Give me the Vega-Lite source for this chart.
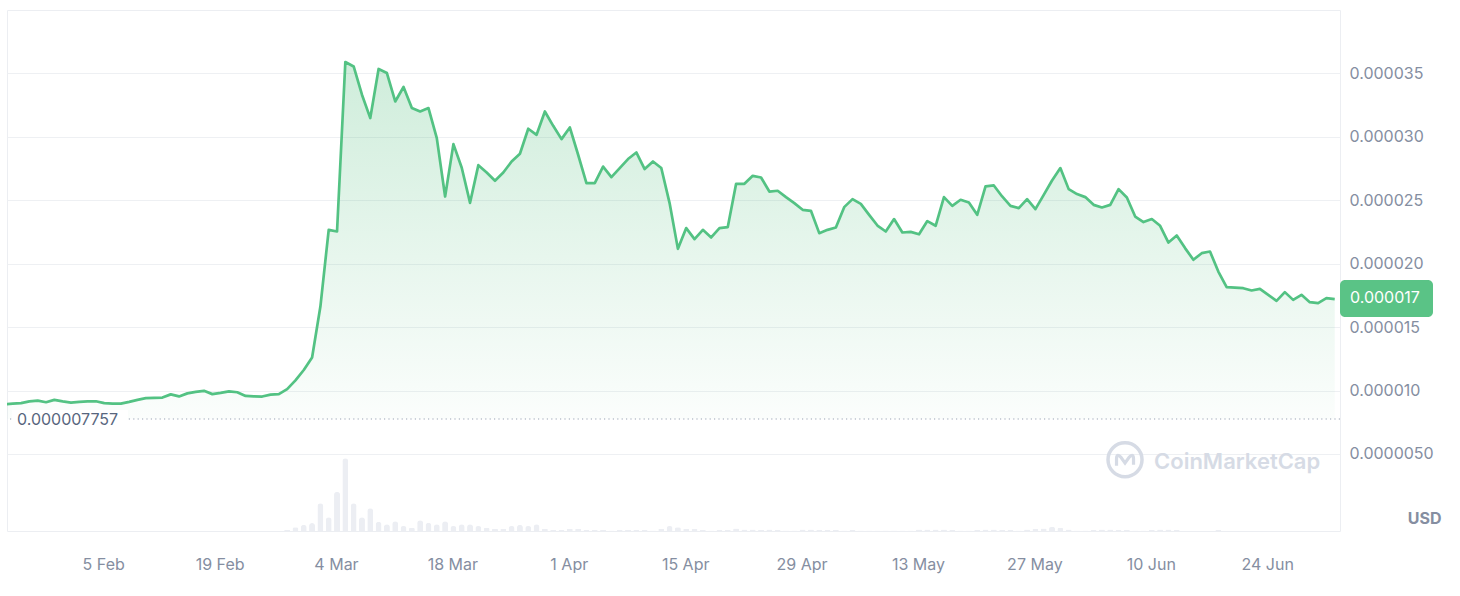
{
  "$schema": "https://vega.github.io/schema/vega-lite/v6.json",
  "width": 1333,
  "height": 521,
  "autosize": {"type": "none"},
  "padding": {"left": 7, "top": 10, "right": 120, "bottom": 65},
  "background": "#ffffff",
  "config": {"font": "Inter", "view": {"stroke": "#eceef2", "strokeWidth": 1}, "scale": {"continuousPadding": 0}},
  "datasets": {
    "price": [
      {"t":"2024-01-24T03:00:00Z","p":8.91e-6},{"t":"2024-01-25T03:00:00Z","p":8.97e-6},{"t":"2024-01-26T03:00:00Z","p":9.01e-6},{"t":"2024-01-27T03:00:00Z","p":9.15e-6},{"t":"2024-01-28T03:00:00Z","p":9.21e-6},{"t":"2024-01-29T03:00:00Z","p":9.08e-6},{"t":"2024-01-30T03:00:00Z","p":9.27e-6},{"t":"2024-01-31T03:00:00Z","p":9.15e-6},
      {"t":"2024-02-01T03:00:00Z","p":9.05e-6},{"t":"2024-02-02T03:00:00Z","p":9.11e-6},{"t":"2024-02-03T03:00:00Z","p":9.15e-6},{"t":"2024-02-04T03:00:00Z","p":9.16e-6},{"t":"2024-02-05T03:00:00Z","p":9.01e-6},{"t":"2024-02-06T03:00:00Z","p":8.97e-6},{"t":"2024-02-07T03:00:00Z","p":8.97e-6},{"t":"2024-02-08T03:00:00Z","p":9.11e-6},{"t":"2024-02-09T03:00:00Z","p":9.27e-6},{"t":"2024-02-10T03:00:00Z","p":9.40e-6},{"t":"2024-02-11T03:00:00Z","p":9.42e-6},{"t":"2024-02-12T03:00:00Z","p":9.45e-6},{"t":"2024-02-13T03:00:00Z","p":9.70e-6},{"t":"2024-02-14T03:00:00Z","p":9.54e-6},{"t":"2024-02-15T03:00:00Z","p":9.78e-6},{"t":"2024-02-16T03:00:00Z","p":9.90e-6},{"t":"2024-02-17T03:00:00Z","p":9.98e-6},{"t":"2024-02-18T03:00:00Z","p":9.72e-6},{"t":"2024-02-19T03:00:00Z","p":9.82e-6},{"t":"2024-02-20T03:00:00Z","p":9.94e-6},{"t":"2024-02-21T03:00:00Z","p":9.87e-6},{"t":"2024-02-22T03:00:00Z","p":9.58e-6},{"t":"2024-02-23T03:00:00Z","p":9.54e-6},{"t":"2024-02-24T03:00:00Z","p":9.53e-6},{"t":"2024-02-25T03:00:00Z","p":9.68e-6},{"t":"2024-02-26T03:00:00Z","p":9.72e-6},{"t":"2024-02-27T03:00:00Z","p":10.11e-6},{"t":"2024-02-28T03:00:00Z","p":10.80e-6},{"t":"2024-02-29T03:00:00Z","p":11.62e-6},
      {"t":"2024-03-01T03:00:00Z","p":12.60e-6},{"t":"2024-03-02T03:00:00Z","p":16.62e-6},{"t":"2024-03-03T03:00:00Z","p":22.67e-6},{"t":"2024-03-04T03:00:00Z","p":22.54e-6},{"t":"2024-03-05T03:00:00Z","p":35.90e-6},{"t":"2024-03-06T03:00:00Z","p":35.55e-6},{"t":"2024-03-07T03:00:00Z","p":33.32e-6},{"t":"2024-03-08T03:00:00Z","p":31.48e-6},{"t":"2024-03-09T03:00:00Z","p":35.35e-6},{"t":"2024-03-10T03:00:00Z","p":35.03e-6},{"t":"2024-03-11T03:00:00Z","p":32.79e-6},{"t":"2024-03-12T03:00:00Z","p":33.93e-6},{"t":"2024-03-13T03:00:00Z","p":32.27e-6},{"t":"2024-03-14T03:00:00Z","p":32.00e-6},{"t":"2024-03-15T03:00:00Z","p":32.27e-6},{"t":"2024-03-16T03:00:00Z","p":29.90e-6},{"t":"2024-03-17T03:00:00Z","p":25.30e-6},{"t":"2024-03-18T03:00:00Z","p":29.43e-6},{"t":"2024-03-19T03:00:00Z","p":27.56e-6},{"t":"2024-03-20T03:00:00Z","p":24.80e-6},{"t":"2024-03-21T03:00:00Z","p":27.77e-6},{"t":"2024-03-22T03:00:00Z","p":27.19e-6},{"t":"2024-03-23T03:00:00Z","p":26.54e-6},{"t":"2024-03-24T03:00:00Z","p":27.19e-6},{"t":"2024-03-25T03:00:00Z","p":28.06e-6},{"t":"2024-03-26T03:00:00Z","p":28.67e-6},{"t":"2024-03-27T03:00:00Z","p":30.64e-6},{"t":"2024-03-28T03:00:00Z","p":30.16e-6},{"t":"2024-03-29T03:00:00Z","p":32.00e-6},{"t":"2024-03-30T03:00:00Z","p":30.87e-6},{"t":"2024-03-31T03:00:00Z","p":29.82e-6},
      {"t":"2024-04-01T03:00:00Z","p":30.74e-6},{"t":"2024-04-02T03:00:00Z","p":28.59e-6},{"t":"2024-04-03T03:00:00Z","p":26.36e-6},{"t":"2024-04-04T03:00:00Z","p":26.36e-6},{"t":"2024-04-05T03:00:00Z","p":27.66e-6},{"t":"2024-04-06T03:00:00Z","p":26.83e-6},{"t":"2024-04-07T03:00:00Z","p":27.54e-6},{"t":"2024-04-08T03:00:00Z","p":28.25e-6},{"t":"2024-04-09T03:00:00Z","p":28.77e-6},{"t":"2024-04-10T03:00:00Z","p":27.46e-6},{"t":"2024-04-11T03:00:00Z","p":28.06e-6},{"t":"2024-04-12T03:00:00Z","p":27.54e-6},{"t":"2024-04-13T03:00:00Z","p":24.78e-6},{"t":"2024-04-14T03:00:00Z","p":21.17e-6},{"t":"2024-04-15T03:00:00Z","p":22.81e-6},{"t":"2024-04-16T03:00:00Z","p":21.94e-6},{"t":"2024-04-17T03:00:00Z","p":22.67e-6},{"t":"2024-04-18T03:00:00Z","p":22.07e-6},{"t":"2024-04-19T03:00:00Z","p":22.81e-6},{"t":"2024-04-20T03:00:00Z","p":22.89e-6},{"t":"2024-04-21T03:00:00Z","p":26.30e-6},{"t":"2024-04-22T03:00:00Z","p":26.30e-6},{"t":"2024-04-23T03:00:00Z","p":26.93e-6},{"t":"2024-04-24T03:00:00Z","p":26.80e-6},{"t":"2024-04-25T03:00:00Z","p":25.69e-6},{"t":"2024-04-26T03:00:00Z","p":25.75e-6},{"t":"2024-04-27T03:00:00Z","p":25.25e-6},{"t":"2024-04-28T03:00:00Z","p":24.78e-6},{"t":"2024-04-29T03:00:00Z","p":24.25e-6},{"t":"2024-04-30T03:00:00Z","p":24.17e-6},
      {"t":"2024-05-01T03:00:00Z","p":22.41e-6},{"t":"2024-05-02T03:00:00Z","p":22.67e-6},{"t":"2024-05-03T03:00:00Z","p":22.85e-6},{"t":"2024-05-04T03:00:00Z","p":24.46e-6},{"t":"2024-05-05T03:00:00Z","p":25.09e-6},{"t":"2024-05-06T03:00:00Z","p":24.72e-6},{"t":"2024-05-07T03:00:00Z","p":23.85e-6},{"t":"2024-05-08T03:00:00Z","p":23.01e-6},{"t":"2024-05-09T03:00:00Z","p":22.54e-6},{"t":"2024-05-10T03:00:00Z","p":23.52e-6},{"t":"2024-05-11T03:00:00Z","p":22.46e-6},{"t":"2024-05-12T03:00:00Z","p":22.51e-6},{"t":"2024-05-13T03:00:00Z","p":22.32e-6},{"t":"2024-05-14T03:00:00Z","p":23.36e-6},{"t":"2024-05-15T03:00:00Z","p":22.99e-6},{"t":"2024-05-16T03:00:00Z","p":25.25e-6},{"t":"2024-05-17T03:00:00Z","p":24.56e-6},{"t":"2024-05-18T03:00:00Z","p":25.04e-6},{"t":"2024-05-19T03:00:00Z","p":24.83e-6},{"t":"2024-05-20T03:00:00Z","p":23.85e-6},{"t":"2024-05-21T03:00:00Z","p":26.09e-6},{"t":"2024-05-22T03:00:00Z","p":26.17e-6},{"t":"2024-05-23T03:00:00Z","p":25.30e-6},{"t":"2024-05-24T03:00:00Z","p":24.56e-6},{"t":"2024-05-25T03:00:00Z","p":24.38e-6},{"t":"2024-05-26T03:00:00Z","p":25.09e-6},{"t":"2024-05-27T03:00:00Z","p":24.30e-6},{"t":"2024-05-28T03:00:00Z","p":25.43e-6},{"t":"2024-05-29T03:00:00Z","p":26.56e-6},{"t":"2024-05-30T03:00:00Z","p":27.54e-6},{"t":"2024-05-31T03:00:00Z","p":25.88e-6},
      {"t":"2024-06-01T03:00:00Z","p":25.49e-6},{"t":"2024-06-02T03:00:00Z","p":25.25e-6},{"t":"2024-06-03T03:00:00Z","p":24.64e-6},{"t":"2024-06-04T03:00:00Z","p":24.43e-6},{"t":"2024-06-05T03:00:00Z","p":24.64e-6},{"t":"2024-06-06T03:00:00Z","p":25.88e-6},{"t":"2024-06-07T03:00:00Z","p":25.22e-6},{"t":"2024-06-08T03:00:00Z","p":23.72e-6},{"t":"2024-06-09T03:00:00Z","p":23.28e-6},{"t":"2024-06-10T03:00:00Z","p":23.52e-6},{"t":"2024-06-11T03:00:00Z","p":22.99e-6},{"t":"2024-06-12T03:00:00Z","p":21.67e-6},{"t":"2024-06-13T03:00:00Z","p":22.22e-6},{"t":"2024-06-14T03:00:00Z","p":21.23e-6},{"t":"2024-06-15T03:00:00Z","p":20.31e-6},{"t":"2024-06-16T03:00:00Z","p":20.83e-6},{"t":"2024-06-17T03:00:00Z","p":20.96e-6},{"t":"2024-06-18T03:00:00Z","p":19.38e-6},{"t":"2024-06-19T03:00:00Z","p":18.15e-6},{"t":"2024-06-20T03:00:00Z","p":18.12e-6},{"t":"2024-06-21T03:00:00Z","p":18.07e-6},{"t":"2024-06-22T03:00:00Z","p":17.89e-6},{"t":"2024-06-23T03:00:00Z","p":18.02e-6},{"t":"2024-06-24T03:00:00Z","p":17.55e-6},{"t":"2024-06-25T03:00:00Z","p":17.07e-6},{"t":"2024-06-26T03:00:00Z","p":17.76e-6},{"t":"2024-06-27T03:00:00Z","p":17.15e-6},{"t":"2024-06-28T03:00:00Z","p":17.55e-6},{"t":"2024-06-29T03:00:00Z","p":16.97e-6},{"t":"2024-06-30T03:00:00Z","p":16.89e-6},{"t":"2024-07-01T03:00:00Z","p":17.29e-6},{"t":"2024-07-02T03:00:00Z","p":17.21e-6}
    ],
    "vol": [
      {"t":"2024-02-27T03:00:00Z","v":100000},{"t":"2024-02-28T03:00:00Z","v":370000},{"t":"2024-02-29T03:00:00Z","v":630000},{"t":"2024-03-01T03:00:00Z","v":800000},{"t":"2024-03-02T03:00:00Z","v":2770000},{"t":"2024-03-03T03:00:00Z","v":1370000},{"t":"2024-03-04T03:00:00Z","v":3930000},{"t":"2024-03-05T03:00:00Z","v":7270000},{"t":"2024-03-06T03:00:00Z","v":2770000},{"t":"2024-03-07T03:00:00Z","v":1370000},{"t":"2024-03-08T03:00:00Z","v":2270000},{"t":"2024-03-09T03:00:00Z","v":930000},{"t":"2024-03-10T03:00:00Z","v":670000},{"t":"2024-03-11T03:00:00Z","v":970000},{"t":"2024-03-12T03:00:00Z","v":500000},{"t":"2024-03-13T03:00:00Z","v":330000},{"t":"2024-03-14T03:00:00Z","v":1070000},{"t":"2024-03-15T03:00:00Z","v":830000},{"t":"2024-03-16T03:00:00Z","v":670000},{"t":"2024-03-17T03:00:00Z","v":970000},{"t":"2024-03-18T03:00:00Z","v":500000},{"t":"2024-03-19T03:00:00Z","v":670000},{"t":"2024-03-20T03:00:00Z","v":670000},{"t":"2024-03-21T03:00:00Z","v":500000},{"t":"2024-03-22T03:00:00Z","v":330000},{"t":"2024-03-23T03:00:00Z","v":230000},{"t":"2024-03-24T03:00:00Z","v":230000},{"t":"2024-03-25T03:00:00Z","v":500000},{"t":"2024-03-26T03:00:00Z","v":630000},{"t":"2024-03-27T03:00:00Z","v":500000},{"t":"2024-03-28T03:00:00Z","v":670000},{"t":"2024-03-29T03:00:00Z","v":230000},{"t":"2024-03-30T03:00:00Z","v":100000},{"t":"2024-03-31T03:00:00Z","v":100000},
      {"t":"2024-04-01T03:00:00Z","v":230000},{"t":"2024-04-02T03:00:00Z","v":230000},{"t":"2024-04-03T03:00:00Z","v":100000},{"t":"2024-04-04T03:00:00Z","v":100000},{"t":"2024-04-05T03:00:00Z","v":100000},{"t":"2024-04-06T03:00:00Z","v":50000},{"t":"2024-04-07T03:00:00Z","v":100000},{"t":"2024-04-08T03:00:00Z","v":100000},{"t":"2024-04-09T03:00:00Z","v":100000},{"t":"2024-04-10T03:00:00Z","v":100000},{"t":"2024-04-11T03:00:00Z","v":50000},{"t":"2024-04-12T03:00:00Z","v":230000},{"t":"2024-04-13T03:00:00Z","v":500000},{"t":"2024-04-14T03:00:00Z","v":370000},{"t":"2024-04-15T03:00:00Z","v":230000},{"t":"2024-04-16T03:00:00Z","v":230000},{"t":"2024-04-17T03:00:00Z","v":100000},{"t":"2024-04-18T03:00:00Z","v":50000},{"t":"2024-04-19T03:00:00Z","v":100000},{"t":"2024-04-20T03:00:00Z","v":100000},{"t":"2024-04-21T03:00:00Z","v":250000},{"t":"2024-04-22T03:00:00Z","v":150000},{"t":"2024-04-23T03:00:00Z","v":150000},{"t":"2024-04-24T03:00:00Z","v":100000},{"t":"2024-04-25T03:00:00Z","v":150000},{"t":"2024-04-26T03:00:00Z","v":100000},{"t":"2024-04-27T03:00:00Z","v":50000},{"t":"2024-04-28T03:00:00Z","v":50000},{"t":"2024-04-29T03:00:00Z","v":150000},{"t":"2024-04-30T03:00:00Z","v":150000},
      {"t":"2024-05-01T03:00:00Z","v":100000},{"t":"2024-05-02T03:00:00Z","v":100000},{"t":"2024-05-03T03:00:00Z","v":100000},{"t":"2024-05-04T03:00:00Z","v":50000},{"t":"2024-05-05T03:00:00Z","v":100000},{"t":"2024-05-06T03:00:00Z","v":50000},{"t":"2024-05-07T03:00:00Z","v":50000},{"t":"2024-05-08T03:00:00Z","v":50000},{"t":"2024-05-09T03:00:00Z","v":50000},{"t":"2024-05-10T03:00:00Z","v":50000},{"t":"2024-05-11T03:00:00Z","v":50000},{"t":"2024-05-12T03:00:00Z","v":50000},{"t":"2024-05-13T03:00:00Z","v":150000},{"t":"2024-05-14T03:00:00Z","v":150000},{"t":"2024-05-15T03:00:00Z","v":150000},{"t":"2024-05-16T03:00:00Z","v":150000},{"t":"2024-05-17T03:00:00Z","v":100000},{"t":"2024-05-18T03:00:00Z","v":50000},{"t":"2024-05-19T03:00:00Z","v":50000},{"t":"2024-05-20T03:00:00Z","v":100000},{"t":"2024-05-21T03:00:00Z","v":150000},{"t":"2024-05-22T03:00:00Z","v":150000},{"t":"2024-05-23T03:00:00Z","v":100000},{"t":"2024-05-24T03:00:00Z","v":100000},{"t":"2024-05-25T03:00:00Z","v":50000},{"t":"2024-05-26T03:00:00Z","v":150000},{"t":"2024-05-27T03:00:00Z","v":200000},{"t":"2024-05-28T03:00:00Z","v":250000},{"t":"2024-05-29T03:00:00Z","v":400000},{"t":"2024-05-30T03:00:00Z","v":300000},{"t":"2024-05-31T03:00:00Z","v":150000},
      {"t":"2024-06-01T03:00:00Z","v":50000},{"t":"2024-06-02T03:00:00Z","v":50000},{"t":"2024-06-03T03:00:00Z","v":100000},{"t":"2024-06-04T03:00:00Z","v":150000},{"t":"2024-06-05T03:00:00Z","v":150000},{"t":"2024-06-06T03:00:00Z","v":100000},{"t":"2024-06-07T03:00:00Z","v":100000},{"t":"2024-06-08T03:00:00Z","v":50000},{"t":"2024-06-09T03:00:00Z","v":50000},{"t":"2024-06-10T03:00:00Z","v":100000},{"t":"2024-06-11T03:00:00Z","v":150000},{"t":"2024-06-12T03:00:00Z","v":150000},{"t":"2024-06-13T03:00:00Z","v":100000},{"t":"2024-06-14T03:00:00Z","v":30000},{"t":"2024-06-15T03:00:00Z","v":30000},{"t":"2024-06-16T03:00:00Z","v":30000},{"t":"2024-06-17T03:00:00Z","v":30000},{"t":"2024-06-18T03:00:00Z","v":100000},{"t":"2024-06-19T03:00:00Z","v":30000},{"t":"2024-06-20T03:00:00Z","v":30000},{"t":"2024-06-21T03:00:00Z","v":30000},{"t":"2024-06-22T03:00:00Z","v":30000},{"t":"2024-06-23T03:00:00Z","v":30000},{"t":"2024-06-24T03:00:00Z","v":30000},{"t":"2024-06-25T03:00:00Z","v":30000},{"t":"2024-06-26T03:00:00Z","v":30000},{"t":"2024-06-27T03:00:00Z","v":30000},{"t":"2024-06-28T03:00:00Z","v":30000},{"t":"2024-06-29T03:00:00Z","v":30000},{"t":"2024-06-30T03:00:00Z","v":30000},{"t":"2024-07-01T03:00:00Z","v":30000},{"t":"2024-07-02T03:00:00Z","v":30000}
    ],
    "minline": [{"t":"2024-01-24T10:20:00Z","p":7.757e-6,"label":"0.000007757"}],
    "last": [{"t":"2024-07-02T18:14:00Z","p":17.21e-6,"label":"0.000017"}],
    "mark": [{"t":"2024-06-06T21:40:00Z","p":4.55e-6,"label":"CoinMarketCap"}]
  },
  "layer": [
    {
      "layer": [
        {
          "data": {"name": "price"},
          "mark": {
            "type": "area",
            "clip": true,
            "color": {
              "gradient": "linear", "x1": 0, "y1": 0, "x2": 0, "y2": 1,
              "stops": [
                {"offset": 0, "color": "rgba(63,183,111,0.25)"},
                {"offset": 1, "color": "rgba(63,183,111,0.02)"}
              ]
            }
          },
          "encoding": {
            "x": {
              "field": "t", "type": "temporal",
              "scale": {"type": "utc", "padding": 0, "domain": [{"year": 2024, "month": 1, "date": 24, "hours": 10, "minutes": 20, "utc": true}, {"year": 2024, "month": 7, "date": 2, "hours": 18, "minutes": 14, "utc": true}]},
              "axis": {
                "values": [
                  {"year": 2024, "month": 2, "date": 5, "utc": true},
                  {"year": 2024, "month": 2, "date": 19, "utc": true},
                  {"year": 2024, "month": 3, "date": 4, "utc": true},
                  {"year": 2024, "month": 3, "date": 18, "utc": true},
                  {"year": 2024, "month": 4, "date": 1, "utc": true},
                  {"year": 2024, "month": 4, "date": 15, "utc": true},
                  {"year": 2024, "month": 4, "date": 29, "utc": true},
                  {"year": 2024, "month": 5, "date": 13, "utc": true},
                  {"year": 2024, "month": 5, "date": 27, "utc": true},
                  {"year": 2024, "month": 6, "date": 10, "utc": true},
                  {"year": 2024, "month": 6, "date": 24, "utc": true}
                ],
                "format": "%-d %b",
                "labelFontSize": 16,
                "labelColor": "#858ea1",
                "labelFont": "Inter",
                "tickSize": 0,
                "domain": false,
                "grid": false,
                "labelPadding": 25,
                "title": null
              }
            },
            "y": {
              "field": "p", "type": "quantitative",
              "scale": {"domain": [-0.00000107, 0.00004], "zero": false, "nice": false},
              "axis": {
                "orient": "right",
                "values": [0.000005, 0.00001, 0.000015, 0.00002, 0.000025, 0.00003, 0.000035],
                "labelExpr": "datum.value < 0.0000099 ? format(datum.value, '.7f') : format(datum.value, '.6f')",
                "labelFontSize": 16,
                "labelColor": "#858ea1",
                "labelFont": "Inter",
                "tickSize": 0,
                "labelPadding": 9,
                "domain": false,
                "grid": true,
                "gridColor": "#eef0f3",
                "title": "USD",
                "titleAngle": 0,
                "titleAlign": "right",
                "titleBaseline": "middle",
                "titleX": 101,
                "titleY": 508,
                "titleFontSize": 16,
                "titleFontWeight": "bold",
                "titleColor": "#858ea1",
                "titleFont": "Inter"
              }
            },
            "y2": {"datum": 0.000007757}
          }
        },
        {
          "data": {"name": "minline"},
          "mark": {"type": "rule", "color": "#9aa3b4", "strokeWidth": 1.2, "strokeDash": [1.2, 3.2]},
          "encoding": {"y": {"field": "p", "type": "quantitative"}}
        },
        {
          "data": {"name": "minline"},
          "mark": {"type": "rect", "color": "#ffffff", "xOffset": 5, "x2Offset": 121, "yOffset": -9, "y2Offset": 9},
          "encoding": {
            "x": {"field": "t", "type": "temporal"},
            "x2": {"field": "t"},
            "y": {"field": "p", "type": "quantitative"},
            "y2": {"field": "p"}
          }
        },
        {
          "data": {"name": "minline"},
          "mark": {"type": "text", "align": "left", "baseline": "middle", "dx": 10, "dy": 1, "fontSize": 16, "color": "#58667e", "font": "Inter"},
          "encoding": {
            "x": {"field": "t", "type": "temporal"},
            "y": {"field": "p", "type": "quantitative"},
            "text": {"field": "label"}
          }
        },
        {
          "data": {"name": "price"},
          "mark": {"type": "line", "clip": true, "color": "#53c283", "strokeWidth": 2.7, "strokeJoin": "round"},
          "encoding": {
            "x": {"field": "t", "type": "temporal"},
            "y": {"field": "p", "type": "quantitative"}
          }
        },
        {
          "data": {"name": "last"},
          "mark": {"type": "rect", "color": "#5ac386", "cornerRadius": 5, "x2Offset": 93, "yOffset": -19, "y2Offset": 18},
          "encoding": {
            "x": {"field": "t", "type": "temporal"},
            "x2": {"field": "t"},
            "y": {"field": "p", "type": "quantitative"},
            "y2": {"field": "p"}
          }
        },
        {
          "data": {"name": "last"},
          "mark": {"type": "text", "align": "left", "baseline": "middle", "dx": 10, "dy": -1, "fontSize": 16, "color": "#ffffff", "font": "Inter"},
          "encoding": {
            "x": {"field": "t", "type": "temporal"},
            "y": {"field": "p", "type": "quantitative"},
            "text": {"field": "label"}
          }
        },
        {
          "data": {"name": "mark"},
          "mark": {"type": "point", "shape": "circle", "size": 1156, "filled": false, "stroke": "#d6dbe5", "strokeWidth": 3.5, "opacity": 1},
          "encoding": {
            "x": {"field": "t", "type": "temporal"},
            "y": {"field": "p", "type": "quantitative"}
          }
        },
        {
          "data": {"name": "mark"},
          "mark": {"type": "point", "shape": "M -0.5 0.35 L -0.5 -0.05 Q -0.5 -0.4 -0.25 -0.15 L 0 0.2 L 0.25 -0.15 Q 0.5 -0.4 0.5 -0.05 L 0.5 0.3", "size": 1156, "filled": false, "stroke": "#d6dbe5", "strokeWidth": 3.2, "opacity": 1},
          "encoding": {
            "x": {"field": "t", "type": "temporal"},
            "y": {"field": "p", "type": "quantitative"}
          }
        },
        {
          "data": {"name": "mark"},
          "mark": {"type": "text", "align": "left", "baseline": "middle", "dx": 29, "dy": 2, "fontSize": 22, "fontWeight": 600, "color": "#d6dbe5", "font": "Inter"},
          "encoding": {
            "x": {"field": "t", "type": "temporal"},
            "y": {"field": "p", "type": "quantitative"},
            "text": {"field": "label"}
          }
        }
      ]
    },
    {
      "data": {"name": "vol"},
      "mark": {"type": "bar", "width": 6, "color": "#eceef3", "cornerRadiusTopLeft": 3, "cornerRadiusTopRight": 3},
      "encoding": {
        "x": {"field": "t", "type": "temporal"},
        "y": {"field": "v", "type": "quantitative", "scale": {"domain": [0, 52100000]}, "axis": null}
      }
    }
  ],
  "resolve": {"scale": {"y": "independent"}}
}
